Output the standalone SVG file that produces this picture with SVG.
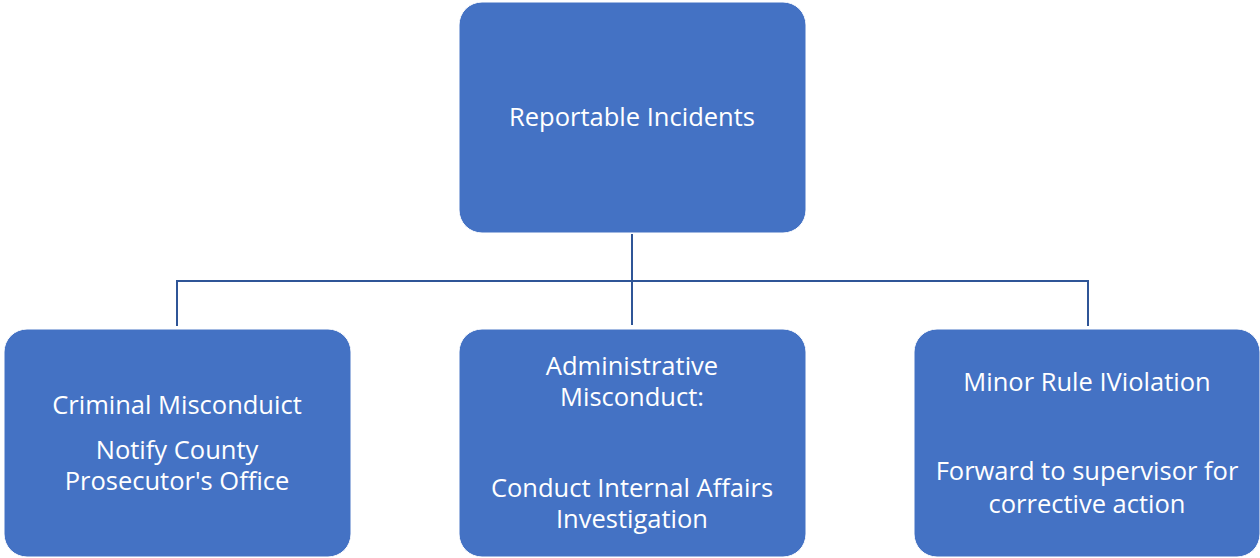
<svg xmlns="http://www.w3.org/2000/svg" width="1260" height="558" viewBox="0 0 1260 558">
<style>
.box{fill:#4472C4;stroke:#ffffff;stroke-width:1}
.t{font-family:"Open Sans","Noto Sans",sans-serif;font-size:25.5px;fill:#ffffff;text-anchor:middle}
.c{fill:none;stroke:#2F5597;stroke-width:2}
</style>
<rect width="1260" height="558" fill="#ffffff"/>
<g id="connectors">
<path class="c" d="M632 234 V325"/>
<path class="c" d="M177 326 V281 H1088 V326"/>
</g>
<g id="top">
<rect class="box" x="459" y="2" width="347" height="231" rx="23"/>
<text class="t" x="632" y="126">Reportable Incidents</text>
</g>
<g id="criminal">
<rect class="box" x="4" y="329" width="347" height="228" rx="23"/>
<text class="t" x="177" y="414">Criminal Misconduict</text>
<text class="t" x="177" y="459">Notify County</text>
<text class="t" x="177" y="490">Prosecutor's Office</text>
</g>
<g id="admin">
<rect class="box" x="459" y="329" width="347" height="228" rx="23"/>
<text class="t" x="632" y="375">Administrative</text>
<text class="t" x="632" y="406">Misconduct:</text>
<text class="t" x="632" y="497">Conduct Internal Affairs</text>
<text class="t" x="632" y="528">Investigation</text>
</g>
<g id="minor">
<rect class="box" x="914" y="329" width="346" height="228" rx="23"/>
<text class="t" x="1087" y="391">Minor Rule IViolation</text>
<text class="t" x="1087" y="480">Forward to supervisor for</text>
<text class="t" x="1087" y="513">corrective action</text>
</g>
</svg>
